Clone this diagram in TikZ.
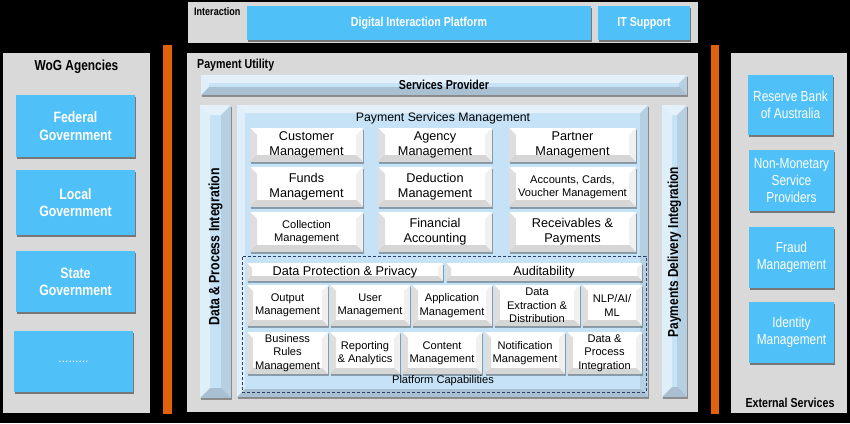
\documentclass[tikz,border=0pt]{standalone}
\usepackage{fontspec}
\setmainfont{Liberation Sans}
\newfontfamily\NarrowFont{Liberation Sans}[FakeStretch=0.82]
\usetikzlibrary{shadows}
\definecolor{pgray}{RGB}{217,217,217}
\definecolor{sky}{RGB}{79,193,248}
\definecolor{lblue}{RGB}{198,226,246}
\definecolor{orng}{RGB}{226,98,12}
\definecolor{navy}{RGB}{40,62,105}
\newcommand{\mkbox}[8][]{\node[#2,anchor=north west,minimum width={#6-#4},minimum height={#7-#5},#1] (#3) at (#4,#5) {#8};}
\begin{document}
\begin{tikzpicture}[x=1pt,y=-1pt]
\tikzset{
 bx/.style={inner sep=0pt,outer sep=0pt,align=center},
 panel/.style={bx,fill=pgray,draw=none},
 skybox/.style={bx,fill=sky,text=white,drop shadow={shadow xshift=1.2pt,shadow yshift=-2pt,fill=black,opacity=.45}},
 bevb/.style={path picture={
   \fill[white,opacity=.55] (path picture bounding box.north west) -- (path picture bounding box.north east) -- ([shift={(-#1pt,-#1pt)}]path picture bounding box.north east) -- ([shift={(#1pt,-#1pt)}]path picture bounding box.north west) -- cycle;
   \fill[white,opacity=.45] (path picture bounding box.north west) -- ([shift={(#1pt,-#1pt)}]path picture bounding box.north west) -- ([shift={(#1pt,#1pt)}]path picture bounding box.south west) -- (path picture bounding box.south west) -- cycle;
   \fill[black,opacity=.15] (path picture bounding box.south west) -- ([shift={(#1pt,#1pt)}]path picture bounding box.south west) -- ([shift={(-#1pt,#1pt)}]path picture bounding box.south east) -- (path picture bounding box.south east) -- cycle;
   \fill[black,opacity=.08] (path picture bounding box.south east) -- ([shift={(-#1pt,#1pt)}]path picture bounding box.south east) -- ([shift={(-#1pt,-#1pt)}]path picture bounding box.north east) -- (path picture bounding box.north east) -- cycle;
 }},
 bevw/.style={path picture={
   \fill[black,opacity=.13] (path picture bounding box.north west) -- ([shift={(#1pt,-#1pt)}]path picture bounding box.north west) -- ([shift={(#1pt,#1pt)}]path picture bounding box.south west) -- (path picture bounding box.south west) -- cycle;
   \fill[black,opacity=.16] (path picture bounding box.south west) -- ([shift={(#1pt,#1pt)}]path picture bounding box.south west) -- ([shift={(-#1pt,#1pt)}]path picture bounding box.south east) -- (path picture bounding box.south east) -- cycle;
   \fill[black,opacity=.06] (path picture bounding box.south east) -- ([shift={(-#1pt,#1pt)}]path picture bounding box.south east) -- ([shift={(-#1pt,-#1pt)}]path picture bounding box.north east) -- (path picture bounding box.north east) -- cycle;
 }},
 bluebar/.style={bx,fill=lblue,bevb=#1,drop shadow={shadow xshift=1pt,shadow yshift=-1.5pt,fill=black,opacity=.35}},
 wbox/.style={bx,fill=white,bevw=#1,drop shadow={shadow xshift=1pt,shadow yshift=-1.5pt,fill=black,opacity=.3}},
 dashbox/.style={bx,draw=navy,line width=0.9pt,dash pattern=on 3pt off 2pt},
 orbar/.style={fill=orng,draw=none,inner sep=0pt,outer sep=0pt},
 fbA/.style={font=\NarrowFont\bfseries\fontsize{11}{13}\selectfont},
 fbB/.style={font=\NarrowFont\bfseries\fontsize{13}{15}\selectfont},
 fbC/.style={font=\NarrowFont\bfseries\fontsize{14.5}{17}\selectfont},
 fbD/.style={font=\NarrowFont\bfseries\fontsize{15}{17.3}\selectfont},
 fnE/.style={font=\NarrowFont\fontsize{14.5}{16.8}\selectfont},
 fpA/.style={font=\fontsize{12.7}{15}\selectfont},
 fpB/.style={font=\fontsize{11.1}{13.4}\selectfont},
 fpT/.style={font=\fontsize{12.3}{14}\selectfont},
}
\fill[black] (0,0) rectangle (850,423);
\useasboundingbox (0,0) rectangle (850,423);

% Interaction
\mkbox{panel}{inter}{188}{2}{698}{43}{}
\node[fbA,anchor=west,inner sep=0pt] (linter) at (194,12) {Interaction};
\mkbox{skybox,fbB}{dip}{247}{6}{591}{40}{Digital Interaction Platform}
\mkbox{skybox,fbB}{its}{598}{6}{690}{40}{IT Support}

% orange bars
\mkbox{orbar}{orl}{163}{45}{172}{414}{}
\mkbox{orbar}{orr}{711}{45}{719}{414}{}

% WoG
\mkbox{panel}{wog}{3}{53}{150}{413}{}
\node[fbC,inner sep=0pt] (lwog) at (76.5,67) {WoG Agencies};
\mkbox{skybox,fbD}{fed}{16}{95}{135}{157}{Federal\\Government}
\mkbox{skybox,fbD}{loc}{16}{170}{135}{235}{Local\\Government}
\mkbox{skybox,fbD}{sta}{16}{251}{135}{312}{State\\Government}
\mkbox[font=\fontsize{12}{14}\selectfont]{skybox}{etc}{14}{331}{133}{392}{.........}

% External
\mkbox{panel}{ext}{731}{53}{847}{413}{}
\mkbox{skybox,fnE}{rba}{748}{75}{833}{135}{Reserve Bank\\of Australia}
\mkbox{skybox,fnE}{nmsp}{749}{150}{834}{211}{Non-Monetary\\Service\\Providers}
\mkbox{skybox,fnE}{frd}{749}{227}{834}{288}{Fraud\\Management}
\mkbox{skybox,fnE}{idm}{749}{302}{834}{363}{Identity\\Management}
\node[fbB,inner sep=0pt] (lext) at (790,403) {External Services};

% Payment Utility
\mkbox{panel}{pu}{187}{53}{698}{412}{}
\node[fbB,anchor=west,inner sep=0pt] (lpu) at (197,65) {Payment Utility};
\mkbox{bluebar=8,fbB}{sp}{201}{75}{687}{95}{Services Provider}
\mkbox{bluebar=10}{dpbar}{200}{105}{231}{398}{}
\node[fbD,rotate=90,inner sep=0pt] (ldp) at (215.5,247) {Data \& Process Integration};
\mkbox{bluebar=10}{pdbar}{662}{105}{687}{397}{}
\node[fbC,rotate=90,inner sep=0pt] (lpd) at (674.5,252) {Payments Delivery Integration};
\mkbox{bluebar=8}{psm}{237}{105}{648}{397}{}
\node[fpT,inner sep=0pt] (lpsm) at (443,118) {Payment Services Management};

% PSM boxes
\mkbox{wbox=7,fpA}{cust}{250}{128}{363}{162}{Customer\\Management}
\mkbox{wbox=7,fpA}{agen}{378}{128}{492}{162}{Agency\\Management}
\mkbox{wbox=7,fpA}{part}{509}{128}{636}{162}{Partner\\Management}
\mkbox{wbox=7,fpA}{fund}{250}{167}{363}{207}{Funds\\Management}
\mkbox{wbox=7,fpA}{dedu}{378}{167}{492}{207}{Deduction\\Management}
\mkbox{wbox=7,fpB}{acct}{509}{167}{636}{207}{Accounts, Cards,\\Voucher Management}
\mkbox{wbox=7,fpB}{coll}{250}{212}{363}{252}{Collection\\Management}
\mkbox{wbox=7,fpA}{fina}{378}{212}{492}{252}{Financial\\Accounting}
\mkbox{wbox=7,fpA}{recv}{509}{212}{636}{252}{Receivables \&\\Payments}

% Platform capabilities
\mkbox{dashbox}{plat}{242}{256}{646}{392}{}
\mkbox{wbox=5,fpA}{dpp}{247}{263}{443}{281}{Data Protection \& Privacy}
\mkbox{wbox=5,fpA}{audi}{446}{263}{642}{281}{Auditability}
\mkbox{wbox=6,fpB}{outm}{247}{285}{328}{326}{Output\\Management}
\mkbox{wbox=6,fpB}{userm}{330}{285}{410}{326}{User\\Management}
\mkbox{wbox=6,fpB}{appm}{412}{285}{492}{326}{Application\\Management}
\mkbox{wbox=6,fpB}{dext}{494}{285}{580}{326}{Data\\Extraction \&\\Distribution}
\mkbox{wbox=6,fpB}{nlp}{582}{285}{642}{326}{NLP/AI/\\ML}
\mkbox{wbox=6,fpB}{brm}{247}{332}{328}{374}{Business\\Rules\\Management}
\mkbox{wbox=6,fpB}{repa}{330}{332}{400}{374}{Reporting\\\& Analytics}
\mkbox{wbox=6,fpB}{conm}{402}{332}{482}{374}{Content\\Management}
\mkbox{wbox=6,fpB}{notm}{485}{332}{565}{374}{Notification\\Management}
\mkbox{wbox=6,fpB}{dpi}{567}{332}{642}{374}{Data \&\\Process\\Integration}
\node[fpB,inner sep=0pt] (lplat) at (443,381) {Platform Capabilities};
\end{tikzpicture}
\end{document}
